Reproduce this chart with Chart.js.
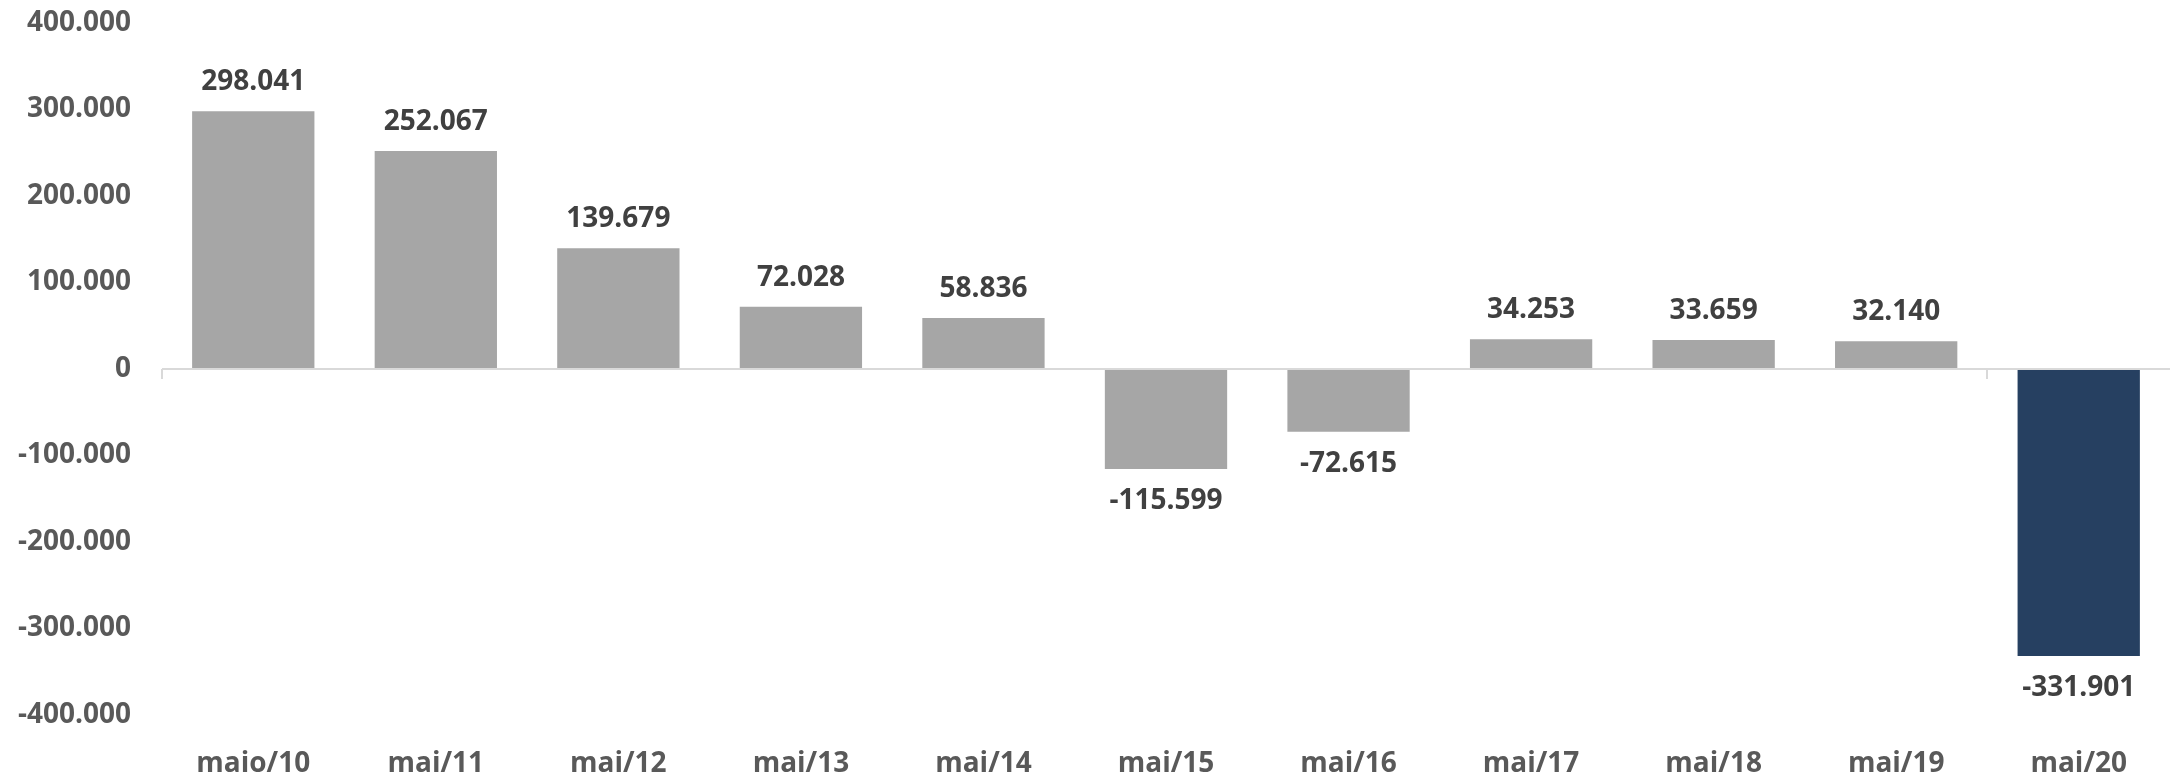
<!DOCTYPE html>
<html>
<head>
<meta charset="utf-8">
<script src="https://cdn.jsdelivr.net/npm/chart.js@4/dist/chart.umd.min.js"></script>
<style>
  html, body { margin: 0; padding: 0; background: #fff; }
  #wrap { width: 2181px; height: 774px; }
</style>
</head>
<body>
<div id="wrap"><canvas id="chart1"></canvas></div>
<script>
let labels = ["maio/10", "mai/11", "mai/12", "mai/13", "mai/14", "mai/15", "mai/16", "mai/17", "mai/18", "mai/19", "mai/20"];
let saldo = [298041, 252067, 139679, 72028, 58836, -115599, -72615, 34253, 33659, 32140, -331901];
let barColors = ["#A6A6A6", "#A6A6A6", "#A6A6A6", "#A6A6A6", "#A6A6A6", "#A6A6A6", "#A6A6A6", "#A6A6A6", "#A6A6A6", "#A6A6A6", "#264061"];

function fmt(v) {
  let s = Math.abs(v).toString().replace(/\B(?=(\d{3})+(?!\d))/g, ".");
  return (v < 0 ? "-" : "") + s;
}

const FONT = "'Open Sans', sans-serif";

// value labels above / below each bar
const valueLabels = {
  id: "valueLabels",
  afterDatasetsDraw(chart) {
    const ctx = chart.ctx;
    const meta = chart.getDatasetMeta(0);
    ctx.save();
    ctx.font = "bold 28px " + FONT;
    ctx.fillStyle = "#404040";
    ctx.textAlign = "center";
    ctx.textBaseline = "middle";
    meta.data.forEach((bar, i) => {
      const v = saldo[i];
      const y = v >= 0 ? bar.y - 29 : bar.y + 32;
      ctx.fillText(fmt(v), bar.x, y);
    });
    ctx.restore();
  }
};

// zero line tick marks every 10 categories
const zeroTicks = {
  id: "zeroTicks",
  afterDraw(chart) {
    const x = chart.scales.x, y = chart.scales.y;
    const y0 = y.getPixelForValue(0);
    const step = x.width / labels.length;
    const ctx = chart.ctx;
    ctx.save();
    ctx.strokeStyle = "#D9D9D9";
    ctx.lineWidth = 2;
    for (let i = 0; i <= labels.length; i += 10) {
      const px = Math.round(x.left + i * step);
      ctx.beginPath();
      ctx.moveTo(px, y0);
      ctx.lineTo(px, y0 + 10);
      ctx.stroke();
    }
    ctx.restore();
  }
};

new Chart("chart1", {
  type: "bar",
  data: {
    labels: labels,
    datasets: [{
      data: saldo,
      backgroundColor: barColors,
      borderWidth: 0,
      categoryPercentage: 1,
      barPercentage: 0.67
    }]
  },
  options: {
    responsive: true,
    maintainAspectRatio: false,
    animation: false,
    layout: { padding: { top: 23, right: 11, left: 0, bottom: 0 } },
    plugins: {
      legend: { display: false },
      tooltip: { enabled: false }
    },
    scales: {
      x: {
        grid: { display: false },
        border: { display: false },
        ticks: {
          color: "#595959",
          font: { family: FONT, size: 28, weight: "bold" },
          padding: 24,
          maxRotation: 0
        },
        afterFit(scale) { scale.height = 59; scale.paddingLeft = 0; scale.paddingRight = 0; }
      },
      y: {
        min: -400000,
        max: 400000,
        border: { display: false },
        grid: {
          drawTicks: false,
          lineWidth: 2,
          color: (c) => c.tick && c.tick.value === 0 ? "#D9D9D9" : "rgba(0,0,0,0)"
        },
        ticks: {
          stepSize: 100000,
          color: "#595959",
          font: { family: FONT, size: 28, weight: "bold" },
          padding: 31,
          callback: (v) => fmt(v)
        },
        afterFit(scale) { scale.width = 162; scale.paddingTop = 0; scale.paddingBottom = 0; }
      }
    }
  },
  plugins: [valueLabels, zeroTicks]
});
</script>
</body>
</html>
